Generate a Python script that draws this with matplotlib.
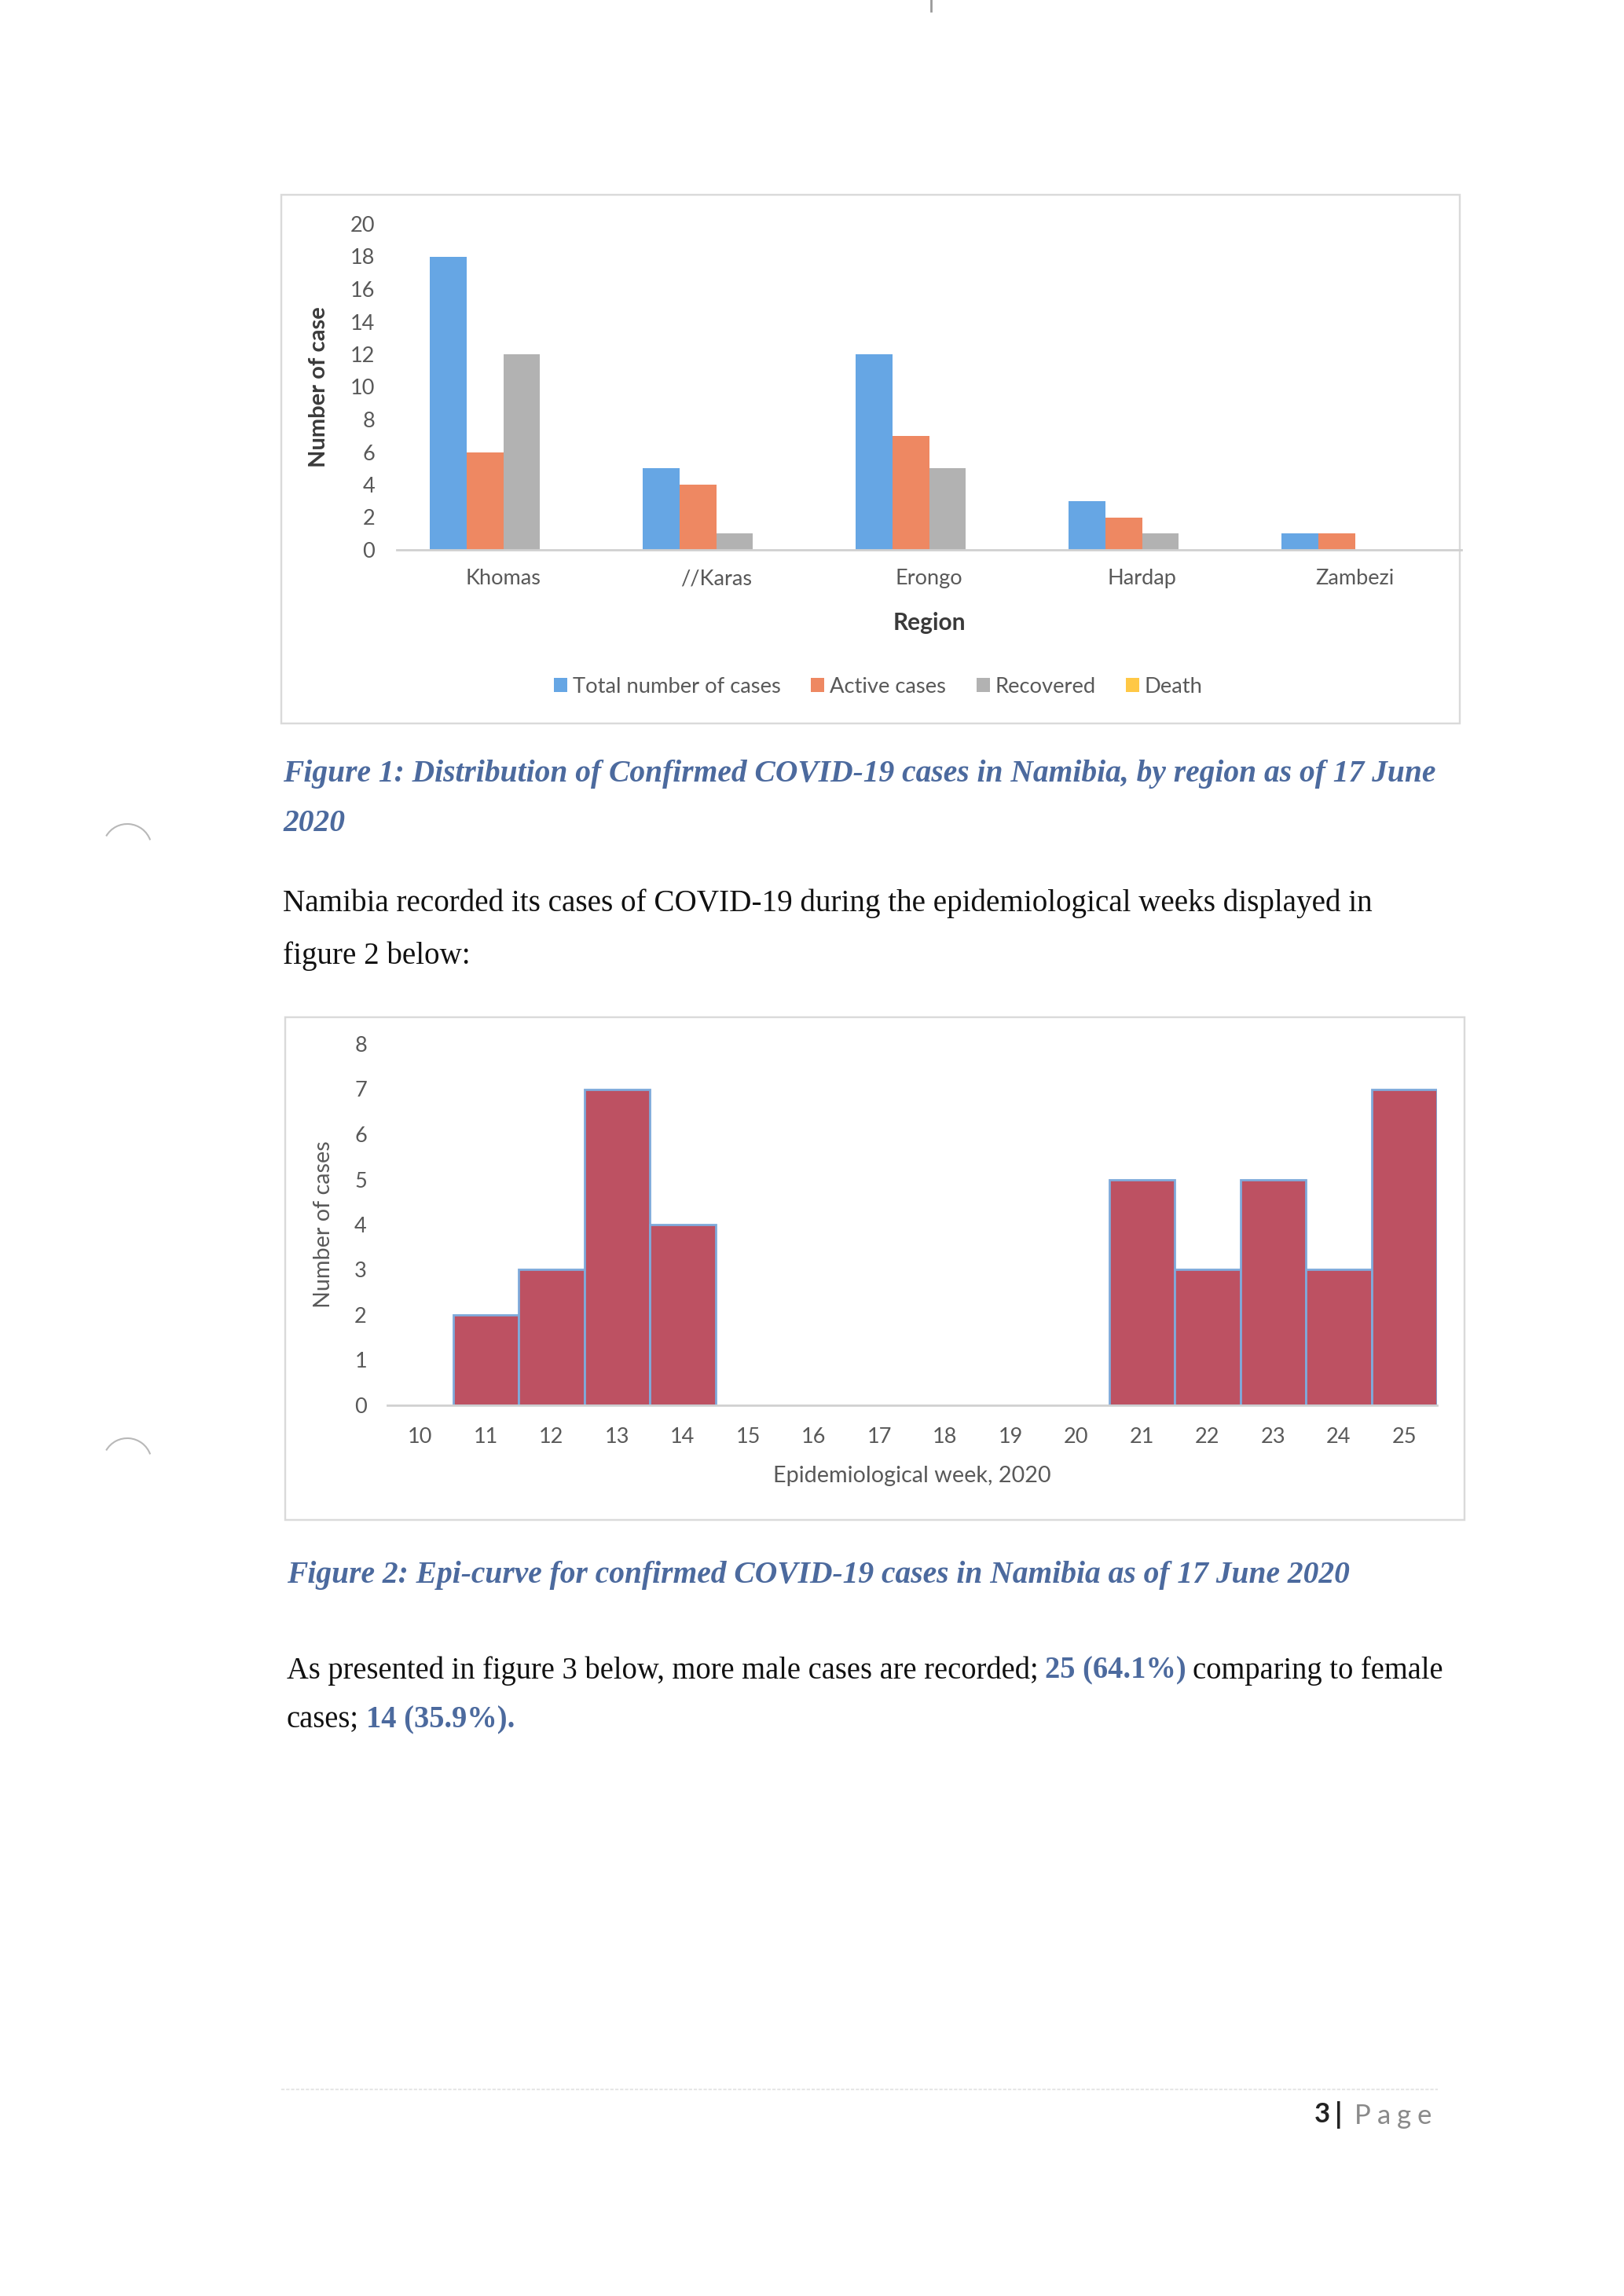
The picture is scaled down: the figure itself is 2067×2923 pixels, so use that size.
import numpy as np
import matplotlib
matplotlib.use('Agg')
import matplotlib.pyplot as plt
from matplotlib.patches import Rectangle, Arc

# data - figure 1
regions = ['Khomas', '//Karas', 'Erongo', 'Hardap', 'Zambezi']
total_cases = [18, 5, 12, 3, 1]
active_cases = [6, 4, 7, 2, 1]
recovered = [12, 1, 5, 1, 0]
death = [0, 0, 0, 0, 0]

# data - figure 2
weeks = [10, 11, 12, 13, 14, 15, 16, 17, 18, 19, 20, 21, 22, 23, 24, 25]
week_cases = [0, 2, 3, 7, 4, 0, 0, 0, 0, 0, 0, 5, 3, 5, 3, 7]

W, H = 2067, 2923
DPI = 250
SANS = 'Lato'
SERIF = 'Liberation Serif'
CAP_COL = '#4C6A9E'
GRAY = '#595959'

fig = plt.figure(figsize=(W / DPI, H / DPI), dpi=DPI)
fig.patch.set_facecolor('white')
renderer = fig.canvas.get_renderer()

# page layer in pixel coordinates
page = fig.add_axes([0, 0, 1, 1])
page.set_xlim(0, W)
page.set_ylim(H, 0)
page.axis('off')


def ax_at(x0, y_top, x1, y_bot):
    return fig.add_axes([x0 / W, 1 - y_bot / H, (x1 - x0) / W, (y_bot - y_top) / H])


def text_width(s, size, **kw):
    t = page.text(0, 0, s, fontsize=size, **kw)
    w = t.get_window_extent(renderer).width
    t.remove()
    return w


def fit_size(s, target, **kw):
    return 12 * target / text_width(s, 12, **kw)


def segments(x, y, parts, size, family=SERIF):
    space = 0.22 * size * DPI / 72
    for s, color, weight in parts:
        t = page.text(x, y, s, fontsize=size, family=family, color=color,
                      fontweight=weight, va='center', ha='left')
        x += t.get_window_extent(renderer).width + space


# chart frames
page.add_patch(Rectangle((358, 248), 1500, 673, fill=False, ec='#DADADA', lw=0.7))
page.add_patch(Rectangle((363, 1295), 1501, 640, fill=False, ec='#DADADA', lw=0.7))

# ---------------- Figure 1: grouped bars ----------------
ax1 = ax_at(505, 285, 1860, 700)
ax1.set_facecolor('none')
series = [('Total number of cases', total_cases, '#66A6E4'),
          ('Active cases', active_cases, '#EE8862'),
          ('Recovered', recovered, '#B2B2B2'),
          ('Death', death, '#FFC845')]
x = np.arange(len(regions))
bw = 0.173
handles = []
for i, (name, vals, col) in enumerate(series):
    b = ax1.bar(x + (i - 1.5) * bw, vals, bw, color=col, label=name)
    handles.append(b)
ax1.set_xlim(-0.5, len(regions) - 0.5)
ax1.set_ylim(0, 20)
ax1.set_yticks(range(0, 21, 2))
ax1.set_xticks(x)
ax1.set_xticklabels(regions)
for s in ['top', 'right', 'left']:
    ax1.spines[s].set_visible(False)
ax1.spines['bottom'].set_color('#D0D0D0')
ax1.spines['bottom'].set_linewidth(0.8)
ax1.tick_params(axis='both', length=0, labelsize=7.8, labelcolor=GRAY)
ax1.tick_params(axis='y', pad=8)
ax1.tick_params(axis='x', pad=7)
for lab in ax1.get_xticklabels() + ax1.get_yticklabels():
    lab.set_family(SANS)
ax1.set_ylabel('Number of case', fontsize=8.4, family=SANS, fontweight='bold', color='#3A3A3A')
ax1.yaxis.set_label_coords(-0.0635, 0.5)
ax1.set_xlabel('Region', fontsize=8.6, family=SANS, fontweight='bold', color='#3A3A3A')
ax1.xaxis.set_label_coords(0.5, -0.19)
fig.legend(handles=handles, loc='center', bbox_to_anchor=(1118 / W, 1 - 874 / H),
           ncol=4, frameon=False, prop={'family': SANS, 'size': 7.9},
           labelcolor=GRAY, handlelength=0.62, handleheight=0.62,
           handletextpad=0.25, columnspacing=1.4)

# ---------------- Figure 2: epi-curve ----------------
ax2 = ax_at(493, 1329, 1829, 1789)
ax2.set_facecolor('none')
lws = [0.8 if v else 0 for v in week_cases]
ax2.bar(weeks, week_cases, 1.0, color='#BD5162', edgecolor='#7FAADB', linewidth=lws)
ax2.set_xlim(weeks[0] - 0.5, weeks[-1] + 0.5)
ax2.set_ylim(0, 8)
ax2.set_yticks(range(0, 9))
ax2.set_xticks(weeks)
for s in ['top', 'right', 'left']:
    ax2.spines[s].set_visible(False)
ax2.spines['bottom'].set_color('#D0D0D0')
ax2.spines['bottom'].set_linewidth(0.8)
ax2.tick_params(axis='both', length=0, labelsize=7.8, labelcolor=GRAY)
ax2.tick_params(axis='y', pad=7.5)
ax2.tick_params(axis='x', pad=8)
for lab in ax2.get_xticklabels() + ax2.get_yticklabels():
    lab.set_family(SANS)
ax2.set_ylabel('Number of cases', fontsize=8.3, family=SANS, color=GRAY)
ax2.yaxis.set_label_coords(-0.051, 0.5)
ax2.set_xlabel('Epidemiological week, 2020', fontsize=8.3, family=SANS, color=GRAY)
ax2.xaxis.set_label_coords(0.5, -0.168)

# ---------------- page text ----------------
cap_kw = dict(family=SERIF, fontweight='bold', fontstyle='italic')
cap1 = 'Figure 1: Distribution of Confirmed COVID-19 cases in Namibia, by region as of 17 June'
cap_size = fit_size(cap1, 1470, **cap_kw)
page.text(360, 986, cap1, fontsize=cap_size, color=CAP_COL, va='center', **cap_kw)
page.text(360, 1049, '2020', fontsize=cap_size, color=CAP_COL, va='center', **cap_kw)

body1 = 'Namibia recorded its cases of COVID-19 during the epidemiological weeks displayed in'
body_size = fit_size(body1, 1387, family=SERIF)
page.text(360, 1150, body1, fontsize=body_size, family=SERIF, color='#111111', va='center')
page.text(360, 1217, 'figure 2 below:', fontsize=body_size, family=SERIF, color='#111111', va='center')

cap2 = 'Figure 2: Epi-curve for confirmed COVID-19 cases in Namibia as of 17 June 2020'
page.text(365, 2006, cap2, fontsize=cap_size, color=CAP_COL, va='center', **cap_kw)

segments(365, 2127, [('As presented in figure 3 below, more male cases are recorded;', '#111111', 'normal'),
                     ('25 (64.1%)', CAP_COL, 'bold'),
                     ('comparing to female', '#111111', 'normal')], body_size * 0.985)
segments(365, 2190, [('cases;', '#111111', 'normal'),
                     ('14 (35.9%).', CAP_COL, 'bold')], body_size * 0.985)

# footer
page.plot([358, 1830], [2660, 2660], color='#E6E6E6', lw=0.6, ls=(0, (2, 1)))
page.text(1683, 2692, '3', fontsize=10, family=SANS, fontweight='bold', color='#222222',
          ha='center', va='center')
page.text(1704, 2692, '|', fontsize=10.5, family=SANS, fontweight='bold', color='#222222',
          ha='center', va='center')
for ch, px in zip('Page', [1734, 1761, 1787, 1813]):
    page.text(px, 2694, ch, fontsize=10, family=SANS, color='#8A8A8A', ha='center', va='center')

# scan marks: top tick and punch-hole arcs (y axis is inverted on this layer)
page.plot([1185, 1185], [0, 14], color='#9A9A9A', lw=0.8)
for cy in [1080, 1862]:
    page.add_patch(Arc((162, cy), 62, 62, theta1=210, theta2=340, color='#B8B8B8', lw=0.6))

fig.savefig('out.png', dpi=DPI)
